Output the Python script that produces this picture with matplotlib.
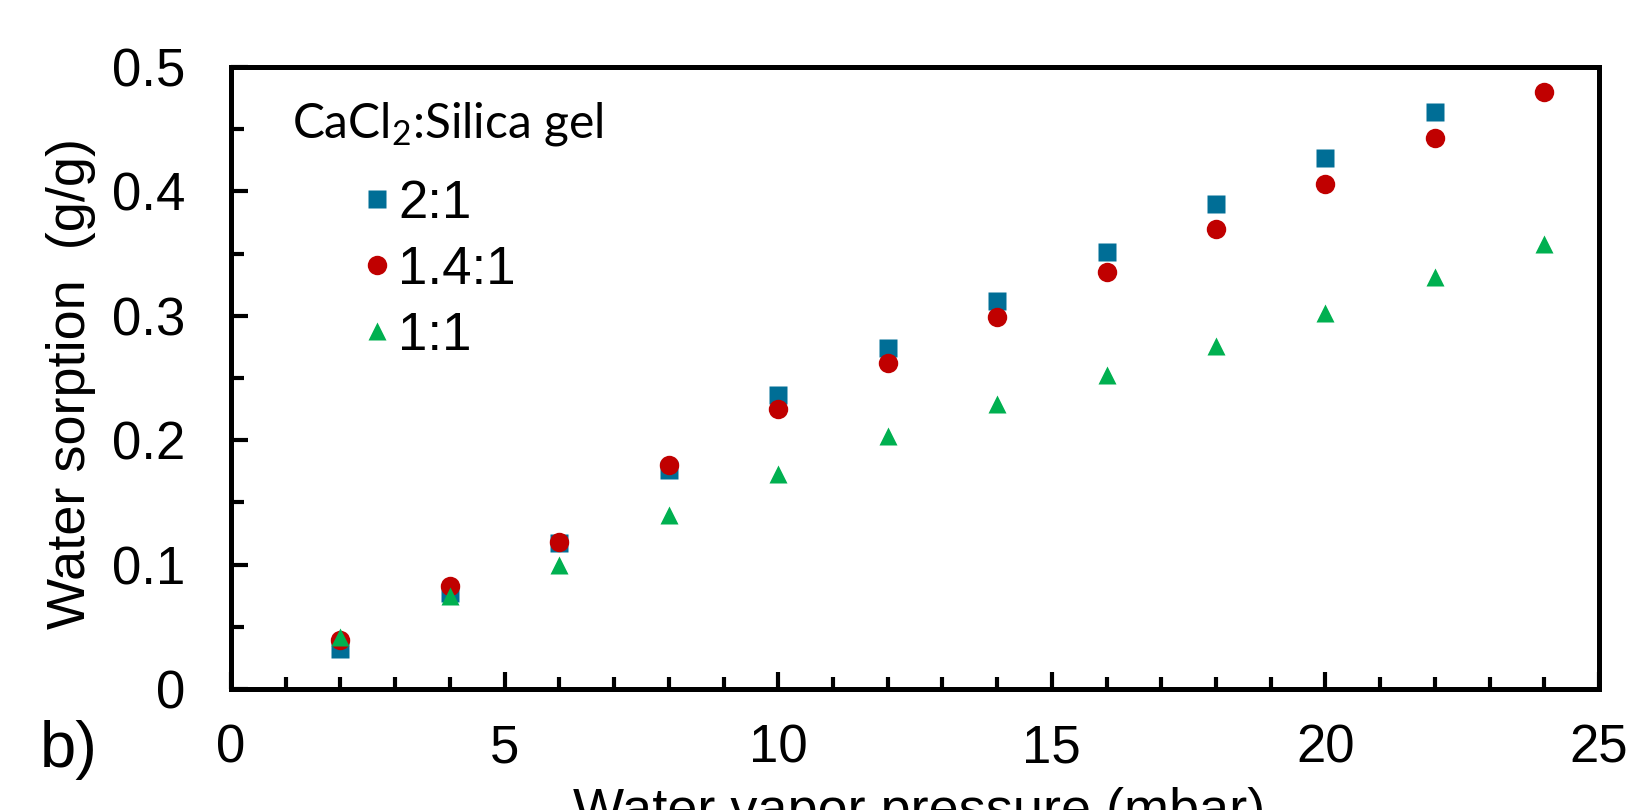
import matplotlib
matplotlib.use("Agg")
import matplotlib.pyplot as plt
from matplotlib.ticker import MultipleLocator

# water vapor pressure (mbar)
pressure = [2, 4, 6, 8, 10, 12, 14, 16, 18, 20, 22, 24]

# water sorption (g/g) for each CaCl2:silica gel ratio
sorption_2_1 = [0.032, 0.077, 0.117, 0.176, 0.236, 0.274, 0.312, 0.351, 0.390, 0.427, 0.464]
sorption_14_1 = [0.039, 0.083, 0.118, 0.180, 0.225, 0.262, 0.299, 0.335, 0.370, 0.406, 0.443, 0.480]
sorption_1_1 = [0.042, 0.075, 0.100, 0.140, 0.173, 0.203, 0.229, 0.252, 0.276, 0.302, 0.331, 0.358]

labels = ["2:1", "1.4:1", "1:1"]

plt.rcParams["font.family"] = ["Liberation Sans", "DejaVu Sans"]

fig = plt.figure(figsize=(16.27, 8.10), dpi=100)
ax = fig.add_axes([0.142, 0.1494, 0.8408, 0.7679])

ax.plot(pressure[:len(sorption_2_1)], sorption_2_1, ls="none", marker="s",
        ms=13.5, color="#006E96", mec="none", label=labels[0])
ax.plot(pressure, sorption_14_1, ls="none", marker="o",
        ms=14, color="#C00000", mec="none", label=labels[1])
ax.plot(pressure, sorption_1_1, ls="none", marker="^",
        ms=12.5, color="#00B050", mec="none", label=labels[2])

ax.set_xlim(0, 25)
ax.set_ylim(0, 0.5)
ax.xaxis.set_major_locator(MultipleLocator(5))
ax.xaxis.set_minor_locator(MultipleLocator(1))
ax.yaxis.set_major_locator(MultipleLocator(0.1))
ax.yaxis.set_minor_locator(MultipleLocator(0.05))
ax.yaxis.set_major_formatter(lambda v, pos: "0" if v == 0 else f"{v:.1f}")

for s in ax.spines.values():
    s.set_linewidth(3.6)
ax.tick_params(which="both", direction="in", width=3, top=False, right=False)
ax.tick_params(which="major", length=12.5, labelsize=38)
ax.tick_params(axis="y", which="major", pad=33)
ax.tick_params(axis="x", which="major", pad=25)
ax.tick_params(which="minor", length=9)

ax.set_ylabel("Water sorption  (g/g)", fontsize=39)
ax.yaxis.set_label_coords(-0.099, 0.491)
ax.set_xlabel("Water vapor pressure (mbar)", fontsize=39)
ax.xaxis.set_label_coords(0.503, -0.158)

ax.text(0.0446, 0.886, r"CaCl$\mathregular{_2}$:Silica gel", transform=ax.transAxes,
        fontsize=34.5, family=["Lato", "DejaVu Sans"], va="baseline", ha="left")

ax.legend(loc="upper left", bbox_to_anchor=(0.0894, 0.82), frameon=False,
          fontsize=38, handlelength=0.9, handletextpad=-0.05, labelspacing=0.3,
          borderaxespad=0, borderpad=0)

fig.text(0.0246, 0.053, "b)", fontsize=47, va="baseline", ha="left")

fig.savefig("out.png", dpi=100)
